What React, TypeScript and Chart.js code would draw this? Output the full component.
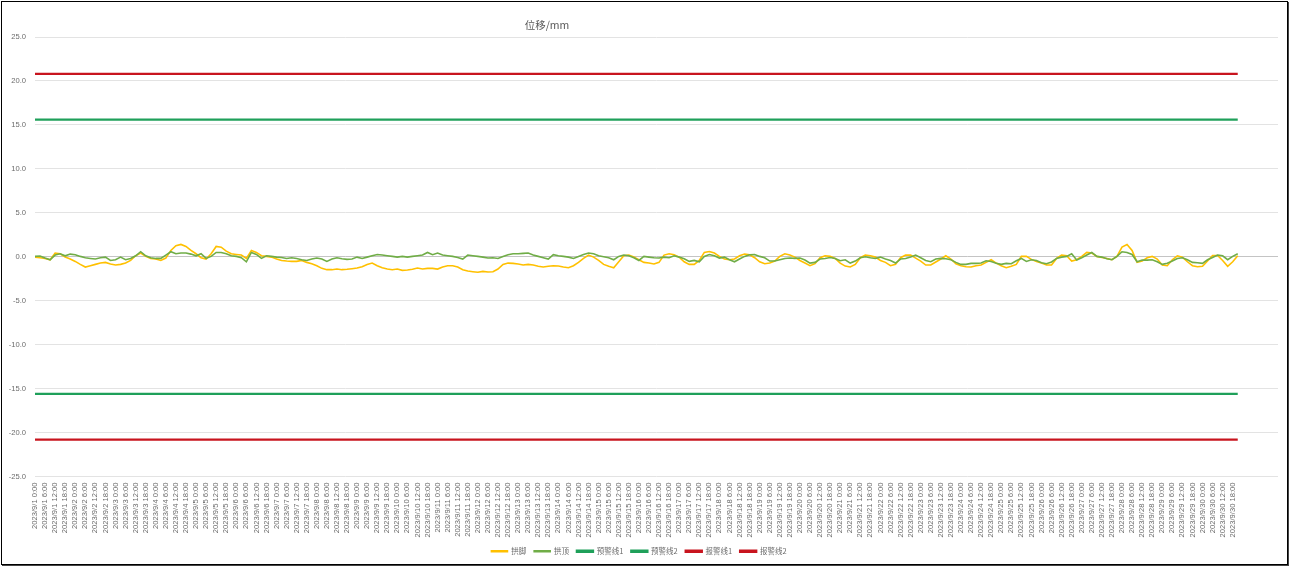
import { useEffect, useRef } from 'react';
import Chart from 'chart.js/auto';

// 3-hourly readings, 2023/9/1 0:00 -> 2023/9/30 21:00
const STEP_HOURS = 3;

const gongJiao = [
  -0.04, -0.11, -0.19, -0.34, 0.42, 0.34, -0.04, -0.26, -0.53, -0.87,
  -1.17, -1.02, -0.87, -0.72, -0.64, -0.83, -0.94, -0.87, -0.72, -0.42,
  0.11, 0.42, 0.04, -0.19, -0.26, -0.42, -0.15, 0.72, 1.25, 1.4,
  1.17, 0.72, 0.34, -0.11, -0.26, 0.34, 1.17, 1.09, 0.64, 0.34,
  0.26, 0.19, -0.19, 0.72, 0.49, 0.11, 0.04, -0.04, -0.26, -0.42,
  -0.49, -0.53, -0.53, -0.42, -0.64, -0.79, -1.02, -1.32, -1.47, -1.47,
  -1.4, -1.47, -1.43, -1.36, -1.28, -1.13, -0.87, -0.72, -1.02, -1.25,
  -1.4, -1.47, -1.4, -1.55, -1.51, -1.43, -1.28, -1.4, -1.32, -1.32,
  -1.4, -1.17, -1.02, -1.02, -1.17, -1.47, -1.62, -1.7, -1.77, -1.66,
  -1.74, -1.7, -1.4, -0.87, -0.72, -0.75, -0.83, -0.94, -0.87, -0.94,
  -1.09, -1.17, -1.09, -1.02, -1.06, -1.17, -1.25, -1.02, -0.64, -0.19,
  0.19, -0.04, -0.42, -0.87, -1.09, -1.25, -0.57, 0.11, 0.19, -0.04,
  -0.34, -0.64, -0.72, -0.83, -0.64, 0.19, 0.34, 0.23, -0.04, -0.57,
  -0.87, -0.87, -0.42, 0.49, 0.6, 0.42, 0.04, -0.26, -0.34, -0.26,
  0.11, 0.3, 0.23, -0.11, -0.57, -0.79, -0.72, -0.49, 0.04, 0.34,
  0.19, -0.04, -0.42, -0.72, -1.02, -0.79, -0.11, 0.11, 0.04, -0.19,
  -0.72, -1.06, -1.17, -0.87, -0.11, 0.19, 0.11, -0.04, -0.42, -0.64,
  -1.02, -0.87, -0.11, 0.19, 0.19, -0.15, -0.49, -0.94, -0.94, -0.6,
  -0.26, 0.11, -0.26, -0.79, -1.02, -1.13, -1.17, -1.02, -0.94, -0.64,
  -0.34, -0.72, -1.02, -1.25, -1.09, -0.87, 0.04, 0.04, -0.3, -0.53,
  -0.72, -0.94, -0.94, -0.19, 0.19, 0.11, -0.49, -0.34, 0.04, 0.49,
  0.42, 0.04, -0.08, -0.19, -0.34, 0.04, 1.09, 1.4, 0.72, -0.64,
  -0.49, -0.11, 0.04, -0.26, -0.94, -1.02, -0.34, 0.11, -0.04, -0.57,
  -1.02, -1.13, -1.09, -0.49, 0.15, 0.15, -0.42, -1.09, -0.57, 0.11,
];

const gongDing = [
  0.04, 0.08, -0.15, -0.34, 0.19, 0.34, 0.11, 0.3, 0.23, 0.04,
  -0.11, -0.19, -0.26, -0.11, -0.04, -0.42, -0.34, -0.04, -0.34, -0.19,
  0.11, 0.57, 0.11, -0.11, -0.19, -0.19, 0.19, 0.57, 0.34, 0.42,
  0.42, 0.3, 0.11, 0.34, -0.19, 0.04, 0.49, 0.49, 0.34, 0.11,
  0.04, -0.11, -0.57, 0.49, 0.26, -0.19, 0.11, 0.04, -0.04, -0.08,
  -0.19, -0.11, -0.19, -0.34, -0.42, -0.26, -0.15, -0.26, -0.53, -0.26,
  -0.11, -0.23, -0.3, -0.26, -0.04, -0.19, -0.04, 0.11, 0.26, 0.19,
  0.11, 0.04, -0.04, 0.04, -0.04, 0.04, 0.11, 0.19, 0.49, 0.23,
  0.42, 0.19, 0.11, 0.04, -0.08, -0.26, 0.19, 0.11, 0.04, -0.04,
  -0.15, -0.11, -0.19, 0.04, 0.23, 0.34, 0.34, 0.38, 0.42, 0.19,
  0.04, -0.11, -0.26, 0.23, 0.11, 0.04, -0.04, -0.19, 0.04, 0.26,
  0.42, 0.34, 0.11, 0.0, -0.11, -0.34, 0.04, 0.19, 0.11, -0.11,
  -0.42, 0.04, -0.04, -0.11, -0.15, -0.04, -0.11, 0.11, -0.04, -0.23,
  -0.53, -0.42, -0.57, 0.04, 0.26, 0.11, -0.15, -0.04, -0.34, -0.57,
  -0.26, 0.04, 0.23, 0.26, 0.04, -0.11, -0.49, -0.49, -0.34, -0.19,
  -0.15, -0.19, -0.15, -0.38, -0.72, -0.64, -0.26, -0.19, -0.08, -0.19,
  -0.45, -0.34, -0.72, -0.49, -0.11, 0.0, -0.11, -0.19, -0.04, -0.26,
  -0.42, -0.72, -0.26, -0.19, -0.04, 0.19, -0.11, -0.42, -0.57, -0.26,
  -0.19, -0.23, -0.34, -0.64, -0.87, -0.87, -0.75, -0.75, -0.72, -0.45,
  -0.53, -0.75, -0.87, -0.75, -0.79, -0.45, -0.19, -0.53, -0.34, -0.42,
  -0.68, -0.79, -0.6, -0.19, -0.04, 0.04, 0.34, -0.38, -0.11, 0.19,
  0.49, 0.04, -0.04, -0.23, -0.34, 0.04, 0.57, 0.49, 0.26, -0.57,
  -0.38, -0.38, -0.34, -0.57, -0.87, -0.75, -0.49, -0.19, -0.11, -0.34,
  -0.64, -0.68, -0.75, -0.34, -0.08, 0.19, 0.11, -0.34, 0.04, 0.34,
];

const warnLevel = 15.6;
const alarmLevel = 20.8;

// x axis: one label every 6 hours
const tickLabels: string[] = [];
for (let d = 1; d <= 30; d++) {
  for (const h of [0, 6, 12, 18]) tickLabels.push(`2023/9/${d} ${h}:00`);
}
const TICK_HOURS = 6;
const AXIS_MAX_HOURS = 741;

const FONT = "'Noto Sans CJK SC', 'Noto Sans', sans-serif";
const NUM_FONT = "'Liberation Sans', Arial, sans-serif";
const TEXT = '#6b6b6b';

const toPoints = (vals: number[]) => vals.map((v, i) => ({ x: i * STEP_HOURS, y: v }));
const flat = (level: number) => [
  { x: 0, y: level },
  { x: (gongJiao.length - 1) * STEP_HOURS, y: level },
];

export default function App() {
  const canvasRef = useRef<HTMLCanvasElement | null>(null);
  const chartRef = useRef<Chart | null>(null);

  useEffect(() => {
    document.body.style.margin = '0';
    if (!canvasRef.current) return;
    if (chartRef.current) chartRef.current.destroy();

    const line = (label: string, data: { x: number; y: number }[], color: string, width: number, order: number) => ({
      label,
      data,
      borderColor: color,
      backgroundColor: color,
      borderWidth: width,
      pointRadius: 0,
      tension: 0,
      order,
    });

    chartRef.current = new Chart(canvasRef.current, {
      type: 'line',
      data: {
        datasets: [
          line('拱脚', toPoints(gongJiao), '#FFC000', 1.6, 5),
          line('拱顶', toPoints(gongDing), '#70AD47', 1.6, 4),
          line('预警线1', flat(warnLevel), '#1FA05A', 2.4, 3),
          line('预警线2', flat(-warnLevel), '#1FA05A', 2.4, 2),
          line('报警线1', flat(alarmLevel), '#C8141E', 2.4, 1),
          line('报警线2', flat(-alarmLevel), '#C8141E', 2.4, 0),
        ],
      },
      options: {
        animation: false,
        responsive: false,
        layout: { padding: { top: 37, right: 13, bottom: 3, left: 0 } },
        plugins: {
          legend: {
            position: 'bottom',
            labels: {
              boxWidth: 16,
              boxHeight: 1,
              padding: 8,
              color: TEXT,
              font: { family: FONT, size: 7.5 },
              sort: (a, b) => (a.datasetIndex ?? 0) - (b.datasetIndex ?? 0),
            },
          },
          title: { display: false },
          tooltip: { enabled: false },
        },
        scales: {
          x: {
            type: 'linear',
            min: 0,
            max: AXIS_MAX_HOURS,
            grid: { display: false, drawTicks: false },
            border: { display: false },
            afterBuildTicks: (scale) => {
              scale.ticks = tickLabels.map((_, k) => ({ value: k * TICK_HOURS }));
            },
            afterFit: (scale) => {
              scale.height = 63;
            },
            ticks: {
              autoSkip: false,
              maxRotation: 90,
              minRotation: 90,
              padding: 6,
              color: TEXT,
              font: { family: NUM_FONT, size: 7.6 },
              callback: (value) => tickLabels[Math.round(Number(value) / TICK_HOURS)] ?? '',
            },
          },
          y: {
            min: -25,
            max: 25,
            afterFit: (scale) => {
              scale.width = 35;
            },
            border: { display: false },
            grid: {
              drawTicks: false,
              color: (ctx) => (ctx.tick && ctx.tick.value === 0 ? '#c4c4c4' : '#e3e3e3'),
            },
            ticks: {
              stepSize: 5,
              padding: 9,
              color: TEXT,
              font: { family: NUM_FONT, size: 7.6 },
              callback: (value) => Number(value).toFixed(1),
            },
          },
        },
      },
    });

    return () => {
      if (chartRef.current) {
        chartRef.current.destroy();
        chartRef.current = null;
      }
    };
  }, []);

  return (
    <div style={{ position: 'relative', width: 1291, height: 568, background: '#fff' }}>
      <canvas ref={canvasRef} width={1291} height={568} style={{ position: 'absolute', left: 0, top: 0 }} />
      <div
        style={{
          position: 'absolute',
          left: 507,
          top: 17,
          width: 80,
          textAlign: 'center',
          fontFamily: FONT,
          fontSize: 10.5,
          color: '#595959',
        }}
      >
        位移/mm
      </div>
      <div
        style={{
          position: 'absolute',
          left: 1,
          top: 1,
          width: 1285,
          height: 562,
          border: '1px solid #000',
          boxShadow: '1px 1px 0 #444',
          pointerEvents: 'none',
        }}
      />
    </div>
  );
}
